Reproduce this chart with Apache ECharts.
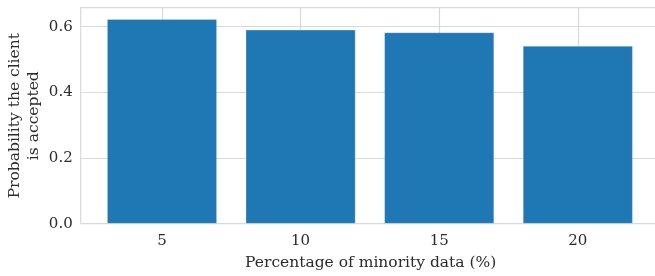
<!DOCTYPE html>
<html><head><meta charset="utf-8">
<script src="https://cdn.jsdelivr.net/npm/echarts@6/dist/echarts.min.js"></script>
<style>html,body{margin:0;padding:0;background:#fff}#c{width:655px;height:276px}</style>
</head><body><div id="c"></div>
<script>
const categories = ['5', '10', '15', '20'];
const values = [0.6235, 0.591, 0.583, 0.542];
const yTicks = [0, 0.2, 0.4, 0.6];
const xTitle = 'Percentage of minority data (%)';
const yTitle = 'Probability the client\nis accepted';

(function () {
const font = 'DejaVu Serif';
const txt = '#2b2b2b';
const gridC = '#d9d9d9';
const chart = echarts.init(document.getElementById('c'), null, {renderer: 'canvas'});
const gTop = 7.7, gBottom = 52.3;
chart.setOption({
  animation: false,
  grid: [
    {left: 80.7, top: gTop, bottom: gBottom, width: 580, show: true, borderColor: gridC, borderWidth: 1.2,
     containLabel: false, outerBoundsMode: 'none'},
    {left: 92.7, top: gTop, bottom: gBottom, width: 554.4, containLabel: false, outerBoundsMode: 'none'}
  ],
  xAxis: [
    {gridIndex: 0, type: 'value', min: 0, max: 1, show: true,
     axisLine: {show: false}, axisTick: {show: false}, axisLabel: {show: false}, splitLine: {show: false},
     name: xTitle, nameLocation: 'middle', nameGap: 31, nameMoveOverlap: false,
     nameTextStyle: {fontFamily: font, fontSize: 15.5, color: txt}},
    {gridIndex: 1, type: 'category', data: categories,
     axisLine: {show: false}, axisTick: {show: false, alignWithLabel: true},
     axisLabel: {fontFamily: font, fontSize: 15, color: txt, margin: 10},
     splitLine: {show: true, alignWithLabel: true, lineStyle: {color: gridC, width: 1.2}},
     splitArea: {show: false}}
  ],
  yAxis: [
    {gridIndex: 0, type: 'value', min: 0, max: 0.658, interval: 0.2,
     axisLine: {show: false}, axisTick: {show: false},
     axisLabel: {fontFamily: font, fontSize: 15, color: txt, margin: 8, showMaxLabel: false,
       formatter: v => yTicks.some(t => Math.abs(t - v) < 1e-9) ? v.toFixed(1) : ''},
     splitLine: {show: true, lineStyle: {color: gridC, width: 1.2}},
     name: yTitle, nameLocation: 'middle', nameGap: 37, nameRotate: 90, nameMoveOverlap: false,
     nameTextStyle: {fontFamily: font, fontSize: 15.5, color: txt, lineHeight: 19}},
    {gridIndex: 1, type: 'value', min: 0, max: 0.658, show: false, splitLine: {show: false}}
  ],
  series: [{
    type: 'bar', xAxisIndex: 1, yAxisIndex: 1, data: values,
    barWidth: 110,
    itemStyle: {color: '#1f77b4', borderColor: 'rgba(255,255,255,0.35)', borderWidth: 0.8}
  }]
});
})();
</script></body></html>
